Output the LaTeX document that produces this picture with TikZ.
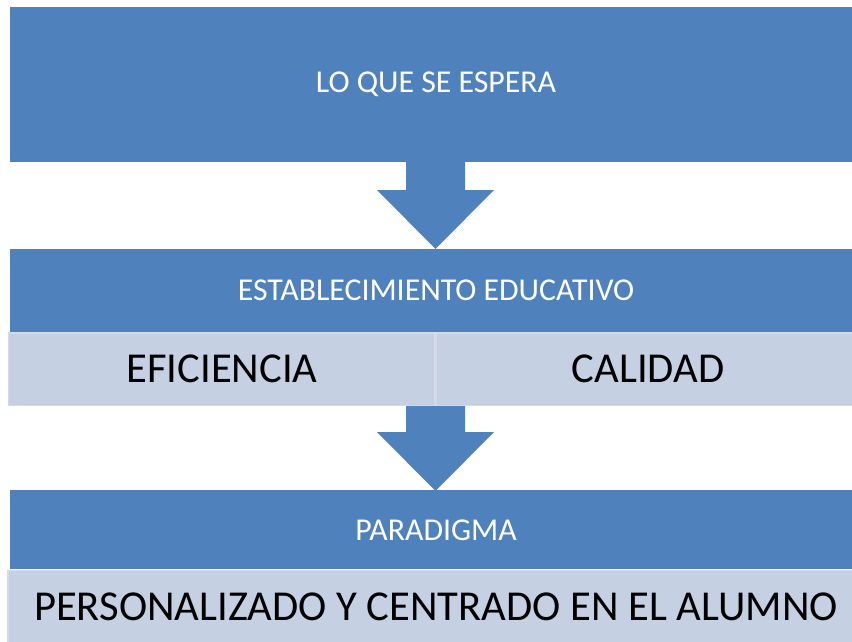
\documentclass[tikz,border=0pt]{standalone}
\usepackage{fontspec}
\setmainfont{Carlito}
\definecolor{dblue}{HTML}{4F81BD}
\definecolor{lblue}{HTML}{C5D0E3}
\definecolor{lborder}{HTML}{D3DBE9}
\begin{document}
\begin{tikzpicture}[x=1pt,y=-1pt,
  darkbox/.style={fill=dblue,draw=none},
  lightbox/.style={fill=lblue,draw=lborder,line width=1.5pt},
  arrowshape/.style={fill=dblue,draw=none},
  smalltext/.style={text=white,font=\fontsize{31.8}{36}\selectfont,inner sep=0pt},
  bigtext/.style={text=black,font=\fontsize{42.6}{48}\selectfont,inner sep=0pt}]
\useasboundingbox (0,0) rectangle (852,642);
% top box
\fill[darkbox] (10,7) rectangle (870,162);
\node[smalltext] (espera) at (436,84) {LO QUE SE ESPERA};
% arrow 1
\fill[arrowshape] (406,161) -- (465,161) -- (465,190) -- (494,190) -- (435.5,249) -- (377,190) -- (406,190) -- cycle;
% second box
\fill[darkbox] (10,249) rectangle (870,332);
\node[smalltext] (estab) at (436,290) {ESTABLECIMIENTO EDUCATIVO};
\draw[lightbox] (8.5,333) rectangle (435,405.5);
\draw[lightbox] (436,333) rectangle (870,405.5);
\node[bigtext] (efic) at (222,369) {EFICIENCIA};
\node[bigtext] (cal) at (648,369) {CALIDAD};
% arrow 2
\fill[arrowshape] (406,406) -- (465,406) -- (465,432) -- (494,432) -- (435.5,491) -- (377,432) -- (406,432) -- cycle;
% third box
\fill[darkbox] (10,490) rectangle (870,569);
\node[smalltext] (parad) at (436,530) {PARADIGMA};
\draw[lightbox] (8,570.5) rectangle (870,650);
\node[bigtext] (pers) at (436,607) {PERSONALIZADO Y CENTRADO EN EL ALUMNO};
\end{tikzpicture}
\end{document}
